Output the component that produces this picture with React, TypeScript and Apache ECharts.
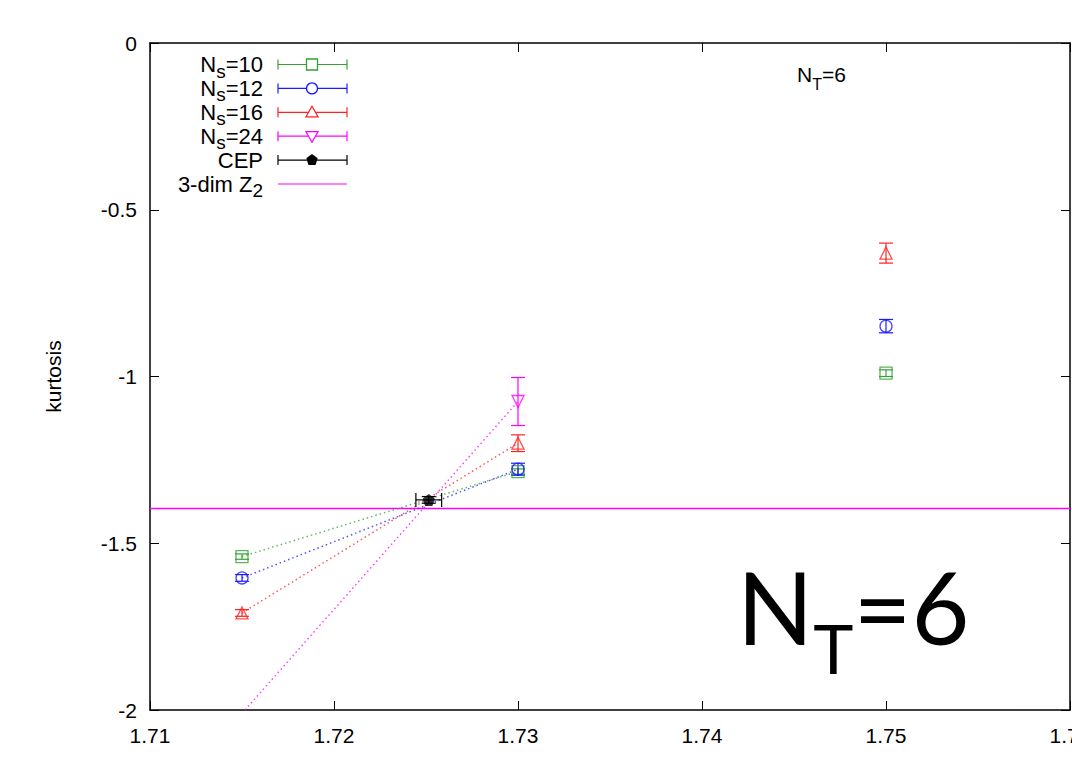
import React, { useEffect, useRef } from "react";
import * as echarts from "echarts";

// ---- data (x, kurtosis, error) ----
const ns10 = [
  [1.715, -1.54, 0.008],
  [1.73, -1.285, 0.008],
  [1.75, -0.99, 0.01],
];
const ns12 = [
  [1.715, -1.604, 0.01],
  [1.73, -1.278, 0.018],
  [1.75, -0.849, 0.02],
];
const ns16 = [
  [1.715, -1.709, 0.01],
  [1.73, -1.2, 0.025],
  [1.75, -0.63, 0.03],
];
const ns24 = [
  [1.715, -2.01, 0.05],
  [1.73, -1.075, 0.072],
];
// x, y, yErr, xErr
const cep = [[1.72515, -1.37, 0.01, 0.0007]];
const z2Value = -1.396;

const xMin = 1.71;
const xMax = 1.76;
const xStep = 0.01;
const yMin = -2;
const yMax = 0;
const yStep = 0.5;

const GREEN = "#33a033";
const BLUE = "#1a1aff";
const RED = "#ff2020";
const MAGENTA = "#ff00ff";
const BLACK = "#000000";

const FONT = "Liberation Sans";

const PENTAGON = "path://M0,-10 L9.51,-3.09 L5.88,8.09 L-5.88,8.09 L-9.51,-3.09 Z";

function errorBarSeries(data: number[][], color: string) {
  return {
    type: "custom",
    clip: true,
    z: 3,
    data,
    renderItem: (params: any, api: any) => {
      const x = api.value(0);
      const y = api.value(1);
      const ey = api.value(2);
      const ex = api.value(3);
      const children: any[] = [];
      if (y < yMin || y > yMax) return { type: "group", children };
      const cap = 7;
      const style = { stroke: color, lineWidth: 1.2 };
      const top = api.coord([x, y + ey]);
      const bot = api.coord([x, y - ey]);
      children.push({ type: "line", shape: { x1: top[0], y1: top[1], x2: bot[0], y2: bot[1] }, style });
      children.push({ type: "line", shape: { x1: top[0] - cap, y1: top[1], x2: top[0] + cap, y2: top[1] }, style });
      children.push({ type: "line", shape: { x1: bot[0] - cap, y1: bot[1], x2: bot[0] + cap, y2: bot[1] }, style });
      if (ex) {
        const l = api.coord([x - ex, y]);
        const r = api.coord([x + ex, y]);
        children.push({ type: "line", shape: { x1: l[0], y1: l[1], x2: r[0], y2: r[1] }, style });
        children.push({ type: "line", shape: { x1: l[0], y1: l[1] - cap, x2: l[0], y2: l[1] + cap }, style });
        children.push({ type: "line", shape: { x1: r[0], y1: r[1] - cap, x2: r[0], y2: r[1] + cap }, style });
      }
      return { type: "group", children };
    },
  };
}

function dottedLine(data: number[][], color: string) {
  return {
    type: "line",
    data: data.slice(0, 2).map((d) => [d[0], d[1]]),
    symbol: "none",
    clip: true,
    z: 2,
    lineStyle: { color, width: 1.5, type: [1.5, 3], opacity: 0.75 },
  };
}

function scatter(data: number[][], color: string, symbol: string, rotate = 0, filled = false) {
  return {
    type: "scatter",
    data: data.map((d) => [d[0], d[1]]),
    symbol,
    symbolSize: 12,
    symbolRotate: rotate,
    clip: true,
    z: 4,
    itemStyle: {
      color: filled ? color : "transparent",
      borderColor: color,
      borderWidth: filled ? 0 : 1.3,
    },
  };
}

// rich text with subscript: tokens are top-aligned, the subscript is pushed down by a top padding.
function subRich(base: number, sub: number, drop: number, family: string) {
  return {
    n: { fontSize: base, fontFamily: family, verticalAlign: "top", fill: BLACK },
    s: { fontSize: sub, fontFamily: family, verticalAlign: "top", padding: [drop, 0, 0, 0], fill: BLACK },
  };
}

const legendItems = [
  { label: "{n|N}{s|s}{n|=10}", color: GREEN, marker: "rect" },
  { label: "{n|N}{s|s}{n|=12}", color: BLUE, marker: "circle" },
  { label: "{n|N}{s|s}{n|=16}", color: RED, marker: "tri" },
  { label: "{n|N}{s|s}{n|=24}", color: MAGENTA, marker: "itri" },
  { label: "{n|CEP}", color: BLACK, marker: "pent" },
  { label: "{n|3-dim Z}{s|2}", color: MAGENTA, marker: "none" },
];

function legendGraphics() {
  const out: any[] = [];
  const textRight = 263;
  const x1 = 278;
  const x2 = 347;
  const mx = 312;
  legendItems.forEach((it, i) => {
    const cy = 64.5 + 23.9 * i;
    out.push({
      type: "text",
      x: textRight,
      y: cy - 11,
      style: {
        text: it.label,
        align: "right",
        verticalAlign: "top",
        fill: BLACK,
        font: `22px '${FONT}'`,
        rich: subRich(22, 19, 8, FONT),
      },
    });
    const ls = { stroke: it.color, lineWidth: 1.2 };
    out.push({ type: "line", shape: { x1, y1: cy, x2, y2: cy }, style: ls });
    if (it.marker !== "none") {
      out.push({ type: "line", shape: { x1, y1: cy - 5, x2: x1, y2: cy + 5 }, style: ls });
      out.push({ type: "line", shape: { x1: x2, y1: cy - 5, x2: x2, y2: cy + 5 }, style: ls });
    }
    const mstyle = { stroke: it.color, lineWidth: 1.3, fill: "#fff" };
    if (it.marker === "rect") {
      out.push({ type: "rect", shape: { x: mx - 5.5, y: cy - 5.5, width: 11, height: 11 }, style: mstyle });
    } else if (it.marker === "circle") {
      out.push({ type: "circle", shape: { cx: mx, cy, r: 5.5 }, style: mstyle });
    } else if (it.marker === "tri") {
      out.push({ type: "polygon", shape: { points: [[mx, cy - 6], [mx + 6, cy + 4.5], [mx - 6, cy + 4.5]] }, style: mstyle });
    } else if (it.marker === "itri") {
      out.push({ type: "polygon", shape: { points: [[mx, cy + 6], [mx + 6, cy - 4.5], [mx - 6, cy - 4.5]] }, style: mstyle });
    } else if (it.marker === "pent") {
      const pts: number[][] = [];
      for (let k = 0; k < 5; k++) {
        const a = -Math.PI / 2 + (k * 2 * Math.PI) / 5;
        pts.push([mx + 6 * Math.cos(a), cy + 6 * Math.sin(a)]);
      }
      out.push({ type: "polygon", shape: { points: pts }, style: { fill: BLACK, stroke: BLACK, lineWidth: 0 } });
    }
  });
  return out;
}

export default function App() {
  const ref = useRef<HTMLDivElement>(null);
  useEffect(() => {
    if (!ref.current) return;
    const chart = echarts.init(ref.current, null, { renderer: "svg" });
    const axisLabelStyle = { fontSize: 21, fontFamily: FONT, color: BLACK };
    const lineStyle = { color: BLACK, width: 1.5 };
    const tick = { show: true, inside: true, length: 9, lineStyle: { color: BLACK, width: 1 } };
    chart.setOption({
      animation: false,
      backgroundColor: "#ffffff",
      grid: { left: 150, right: 2, top: 43, bottom: 54, containLabel: false, outerBoundsMode: "none" },
      xAxis: [
        {
          type: "value",
          position: "bottom",
          min: xMin,
          max: xMax,
          interval: xStep,
          axisLine: { show: true, onZero: false, lineStyle },
          axisTick: tick,
          axisLabel: { ...axisLabelStyle, margin: 15, formatter: (v: number) => v.toFixed(2) },
          splitLine: { show: false },
        },
        {
          type: "value",
          position: "top",
          min: xMin,
          max: xMax,
          interval: xStep,
          axisLine: { show: true, onZero: false, lineStyle },
          axisTick: tick,
          axisLabel: { show: false },
          splitLine: { show: false },
        },
      ],
      yAxis: [
        {
          type: "value",
          position: "left",
          min: yMin,
          max: yMax,
          interval: yStep,
          name: "kurtosis",
          nameLocation: "middle",
          nameGap: 86,
          nameTextStyle: { fontSize: 21, fontFamily: FONT, color: BLACK },
          axisLine: { show: true, onZero: false, lineStyle },
          axisTick: tick,
          axisLabel: { ...axisLabelStyle, margin: 13 },
          splitLine: { show: false },
        },
        {
          type: "value",
          position: "right",
          min: yMin,
          max: yMax,
          interval: yStep,
          axisLine: { show: true, onZero: false, lineStyle },
          axisTick: tick,
          axisLabel: { show: false },
          splitLine: { show: false },
        },
      ],
      series: [
        {
          type: "line",
          data: [
            [xMin, z2Value],
            [xMax, z2Value],
          ],
          symbol: "none",
          z: 2,
          lineStyle: { color: MAGENTA, width: 1.5 },
        },
        dottedLine(ns10, GREEN),
        dottedLine(ns12, BLUE),
        dottedLine(ns16, RED),
        dottedLine(ns24, MAGENTA),
        errorBarSeries(ns10, GREEN),
        errorBarSeries(ns12, BLUE),
        errorBarSeries(ns16, RED),
        errorBarSeries(ns24, MAGENTA),
        errorBarSeries(cep, BLACK),
        scatter(ns10, GREEN, "rect"),
        scatter(ns12, BLUE, "circle"),
        scatter(ns16, RED, "triangle"),
        scatter(ns24, MAGENTA, "triangle", 180),
        scatter(cep, BLACK, PENTAGON, 0, true),
      ],
      graphic: [
        ...legendGraphics(),
        {
          type: "text",
          x: 797,
          y: 64,
          style: {
            text: "{n|N}{s|T}{n|=6}",
            fill: BLACK,
            font: `21px '${FONT}'`,
            verticalAlign: "top",
            rich: subRich(21, 16, 12, FONT),
          },
        },
        {
          type: "text",
          x: 737,
          y: 556,
          style: {
            text: "{n|N}{s|T}{n|=6}",
            fill: BLACK,
            font: "100px Lato",
            verticalAlign: "top",
            rich: subRich(100, 68, 57, "Lato"),
          },
        },
      ],
    });
    return () => chart.dispose();
  }, []);
  return <div ref={ref} style={{ position: "fixed", left: 0, top: 0, width: 1072, height: 764 }} />;
}
